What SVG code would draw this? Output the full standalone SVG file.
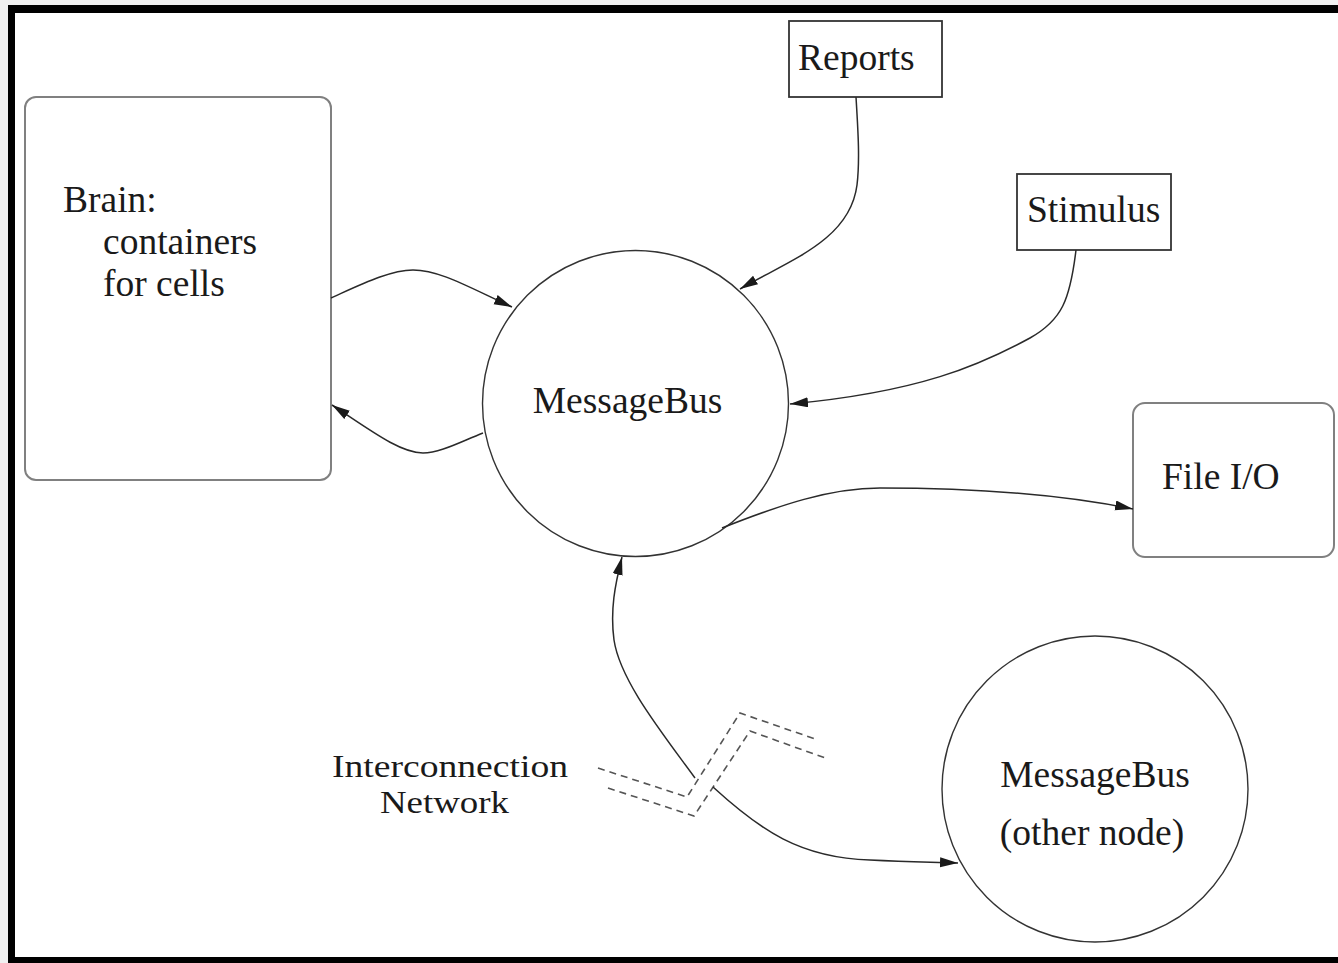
<svg xmlns="http://www.w3.org/2000/svg" width="1338" height="963" viewBox="0 0 1338 963">
<style>
text{font-family:"Liberation Serif","Times New Roman",serif;font-size:37.5px;fill:#1a1a1a}
.net{font-size:32px}
.edge{fill:none;stroke:#2a2a2a;stroke-width:1.5}
.dash{fill:none;stroke:#555;stroke-width:1.6;stroke-dasharray:7 5}
.rbox{fill:#fff;stroke:#808080;stroke-width:2}
.sbox{fill:#fff;stroke:#333;stroke-width:1.8}
.circ{fill:#fff;stroke:#333;stroke-width:1.4}
</style>
<defs>
<marker id="arr" markerUnits="userSpaceOnUse" markerWidth="20" markerHeight="12" refX="18" refY="5" orient="auto">
<path d="M0,0 L18,5 L0,10 Z" fill="#1a1a1a"/>
</marker>
</defs>
<rect x="0" y="0" width="1338" height="963" fill="#f0f0f0"/>
<rect x="8" y="5" width="1340" height="970" fill="#000"/>
<rect x="15" y="13" width="1340" height="944" fill="#fff"/>

<g id="brain">
<rect class="rbox" x="25" y="97" width="306" height="383" rx="11"/>
<text x="63" y="212">Brain:</text>
<text x="103" y="254">containers</text>
<text x="103" y="296">for cells</text>
</g>
<g id="reports">
<rect class="sbox" x="789" y="21" width="153" height="76"/>
<text x="798" y="70">Reports</text>
</g>
<g id="stimulus">
<rect class="sbox" x="1017" y="174" width="154" height="76"/>
<text x="1027" y="222">Stimulus</text>
</g>
<g id="fileio">
<rect class="rbox" x="1133" y="403" width="201" height="154" rx="12"/>
<text x="1162" y="489">File I/O</text>
</g>
<g id="messagebus">
<circle class="circ" cx="635.5" cy="403.5" r="153"/>
<text x="627.5" y="413" text-anchor="middle">MessageBus</text>
</g>
<g id="othernode">
<circle class="circ" cx="1095" cy="789" r="153"/>
<text x="1095" y="787" text-anchor="middle">MessageBus</text>
<text x="1092" y="845" text-anchor="middle">(other node)</text>
</g>
<g id="network">
<text class="net" x="332" y="777" textLength="236" lengthAdjust="spacingAndGlyphs">Interconnection</text>
<text class="net" x="380" y="813" textLength="129" lengthAdjust="spacingAndGlyphs">Network</text>
<path class="dash" d="M598,768 L687,797 L740,713 L818,740"/>
<path class="dash" d="M608,788 L694,816 L750,731 L828,759"/>
</g>

<g id="connectors">
<path class="edge" marker-end="url(#arr)" d="M331,298 C360,285 390,270 413,270 C440,270 470,288 512,307"/>
<path class="edge" marker-end="url(#arr)" d="M483,433 C460,442 440,453 423,453 C400,453 370,430 332,405"/>
<path class="edge" marker-end="url(#arr)" d="M856,97 C858,130 860,160 857,185 C850,240 790,260 740,289"/>
<path class="edge" marker-end="url(#arr)" d="M1076,250 C1070,300 1062,320 1030,338 C980,365 920,392 790,404"/>
<path class="edge" marker-end="url(#arr)" d="M722,528 C780,505 830,488 880,488 C960,488 1050,492 1133,509"/>
<path class="edge" marker-end="url(#arr)" d="M695,778 C660,730 620,680 614,640 C610,610 615,585 622,557"/>
<path class="edge" marker-end="url(#arr)" d="M713,787 C760,830 800,858 870,860 C910,862 930,862 958,863"/>
</g>
</svg>
